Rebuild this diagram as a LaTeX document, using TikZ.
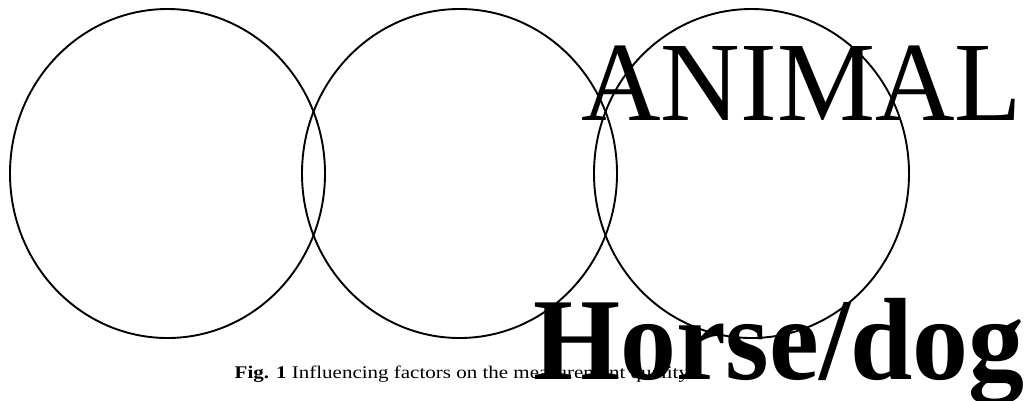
\documentclass[tikz,border=0pt]{standalone}
\usepackage{fontspec}
\setmainfont{Liberation Serif}
\usetikzlibrary{positioning, shapes.geometric}

\begin{document}
\begin{tikzpicture}[x=1pt, y=-1pt,
  ring/.style={draw, ellipse, line width=1.9pt, minimum width=315pt, minimum height=329pt, inner sep=0pt, outer sep=0pt},
  big/.style={inner sep=0pt, outer sep=0pt, anchor=base west},
]
  \useasboundingbox[fill=white] (0,0) rectangle (1032,400);

  \node[ring] (c1) at (167.5,173.5) {};
  \node[ring, right=-23pt of c1] (c2) {};
  \node[ring, right=-23pt of c2] (c3) {};

  \node[big, font=\fontsize{113}{113}\selectfont] (animal) at (581.4,120) {\scalebox{0.975}[1]{ANIMAL}};
  \node[big, font=\fontsize{117}{117}\selectfont\bfseries] (horse) at (533,379) {\scalebox{0.957}[1]{Horse/dog}};
  \node[big, font=\fontsize{21}{21}\selectfont] (caption) at (234.7,378) {\scalebox{1}[0.85]{\textbf{Fig. 1} Influencing factors on the measurement quality}};
\end{tikzpicture}
\end{document}
